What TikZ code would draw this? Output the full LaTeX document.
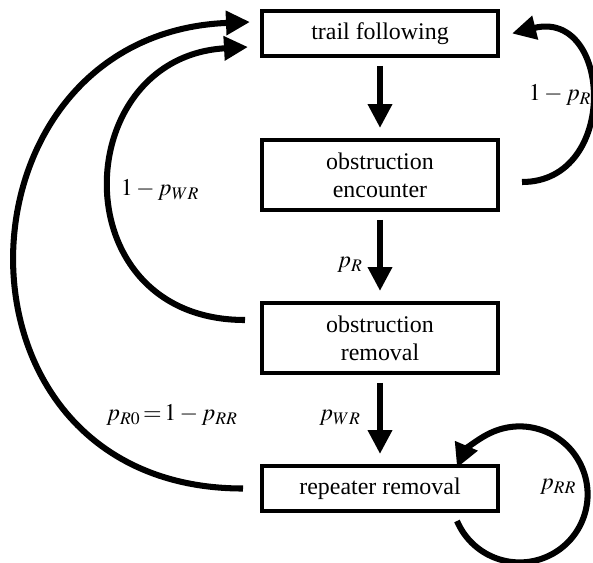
\documentclass[tikz,border=0pt]{standalone}
\usepackage{mathptmx}
\usepackage{fontspec}
\setmainfont{Liberation Serif}
\newfontfamily\statefont{Liberation Serif}
\usetikzlibrary{arrows.meta}

\begin{document}
\begin{tikzpicture}[x=0.025cm,y=0.025cm,
    state/.style={rectangle,
          draw,
          line width = 2.8pt,
          minimum width = 5.9cm,
          minimum height = 1.125cm,
          inner sep = 0pt,
          align = center,
          font = \statefont\fontsize{17}{20}\selectfont},
    tall/.style={minimum height = 1.75cm},
    flow/.style={line width = 4.3pt, -{Triangle[width=0.58cm,length=0.6cm]}},
    lbl/.style={font = \statefont\fontsize{17}{20}\selectfont}]

    \useasboundingbox (0,0) rectangle (593,-562);

    \node[state] (trail) at (380,-33.5) {trail following};
    \node[state, tall] (enc) at (380,-175) {obstruction\\encounter};
    \node[state, tall] (rem) at (380,-338) {obstruction\\removal};
    \node[state] (rep) at (380,-488.5) {repeater removal};

    %main chain
    \draw[flow, shorten <= 0.2cm, shorten >= 0.25cm] (trail) -- (enc);
    \draw[flow, shorten <= 0.2cm, shorten >= 0.25cm] (enc) -- (rem);
    \draw[flow, shorten <= 0.2cm, shorten >= 0.25cm] (rem) -- (rep);

    %loops back
    \draw[flow] ([shift={(22,-7)}]enc.east)
        .. controls +(98,0) and +(100,25) .. ([shift={(12,0)}]trail.east);
    \draw[flow] ([shift={(-15,18)}]rem.west)
        .. controls +(-185,0) and +(-180,-10) .. ([shift={(-12,-13.5)}]trail.west);
    \draw[flow] ([shift={(-17,0)}]rep.west)
        .. controls +(-310,0) and +(-305,-12) .. ([shift={(-10,11.5)}]trail.west);
    \draw[flow] ([shift={(-43,-8)}]rep.south east)
        arc[start angle=203, end angle=517, radius=68];

    %labels
    \node[lbl] (l1) at (560,-95) {$1-p_R$};
    \node[lbl] (l2) at (160,-190) {$1-p_{WR}$};
    \node[lbl] (l3) at (350,-265) {$p_R$};
    \node[lbl] (l4) at (172,-415) {$p_{R0}\!=\!1-p_{RR}$};
    \node[lbl] (l5) at (340,-418) {$p_{WR}$};
    \node[lbl] (l6) at (558,-487) {$p_{RR}$};

\end{tikzpicture}
\end{document}
